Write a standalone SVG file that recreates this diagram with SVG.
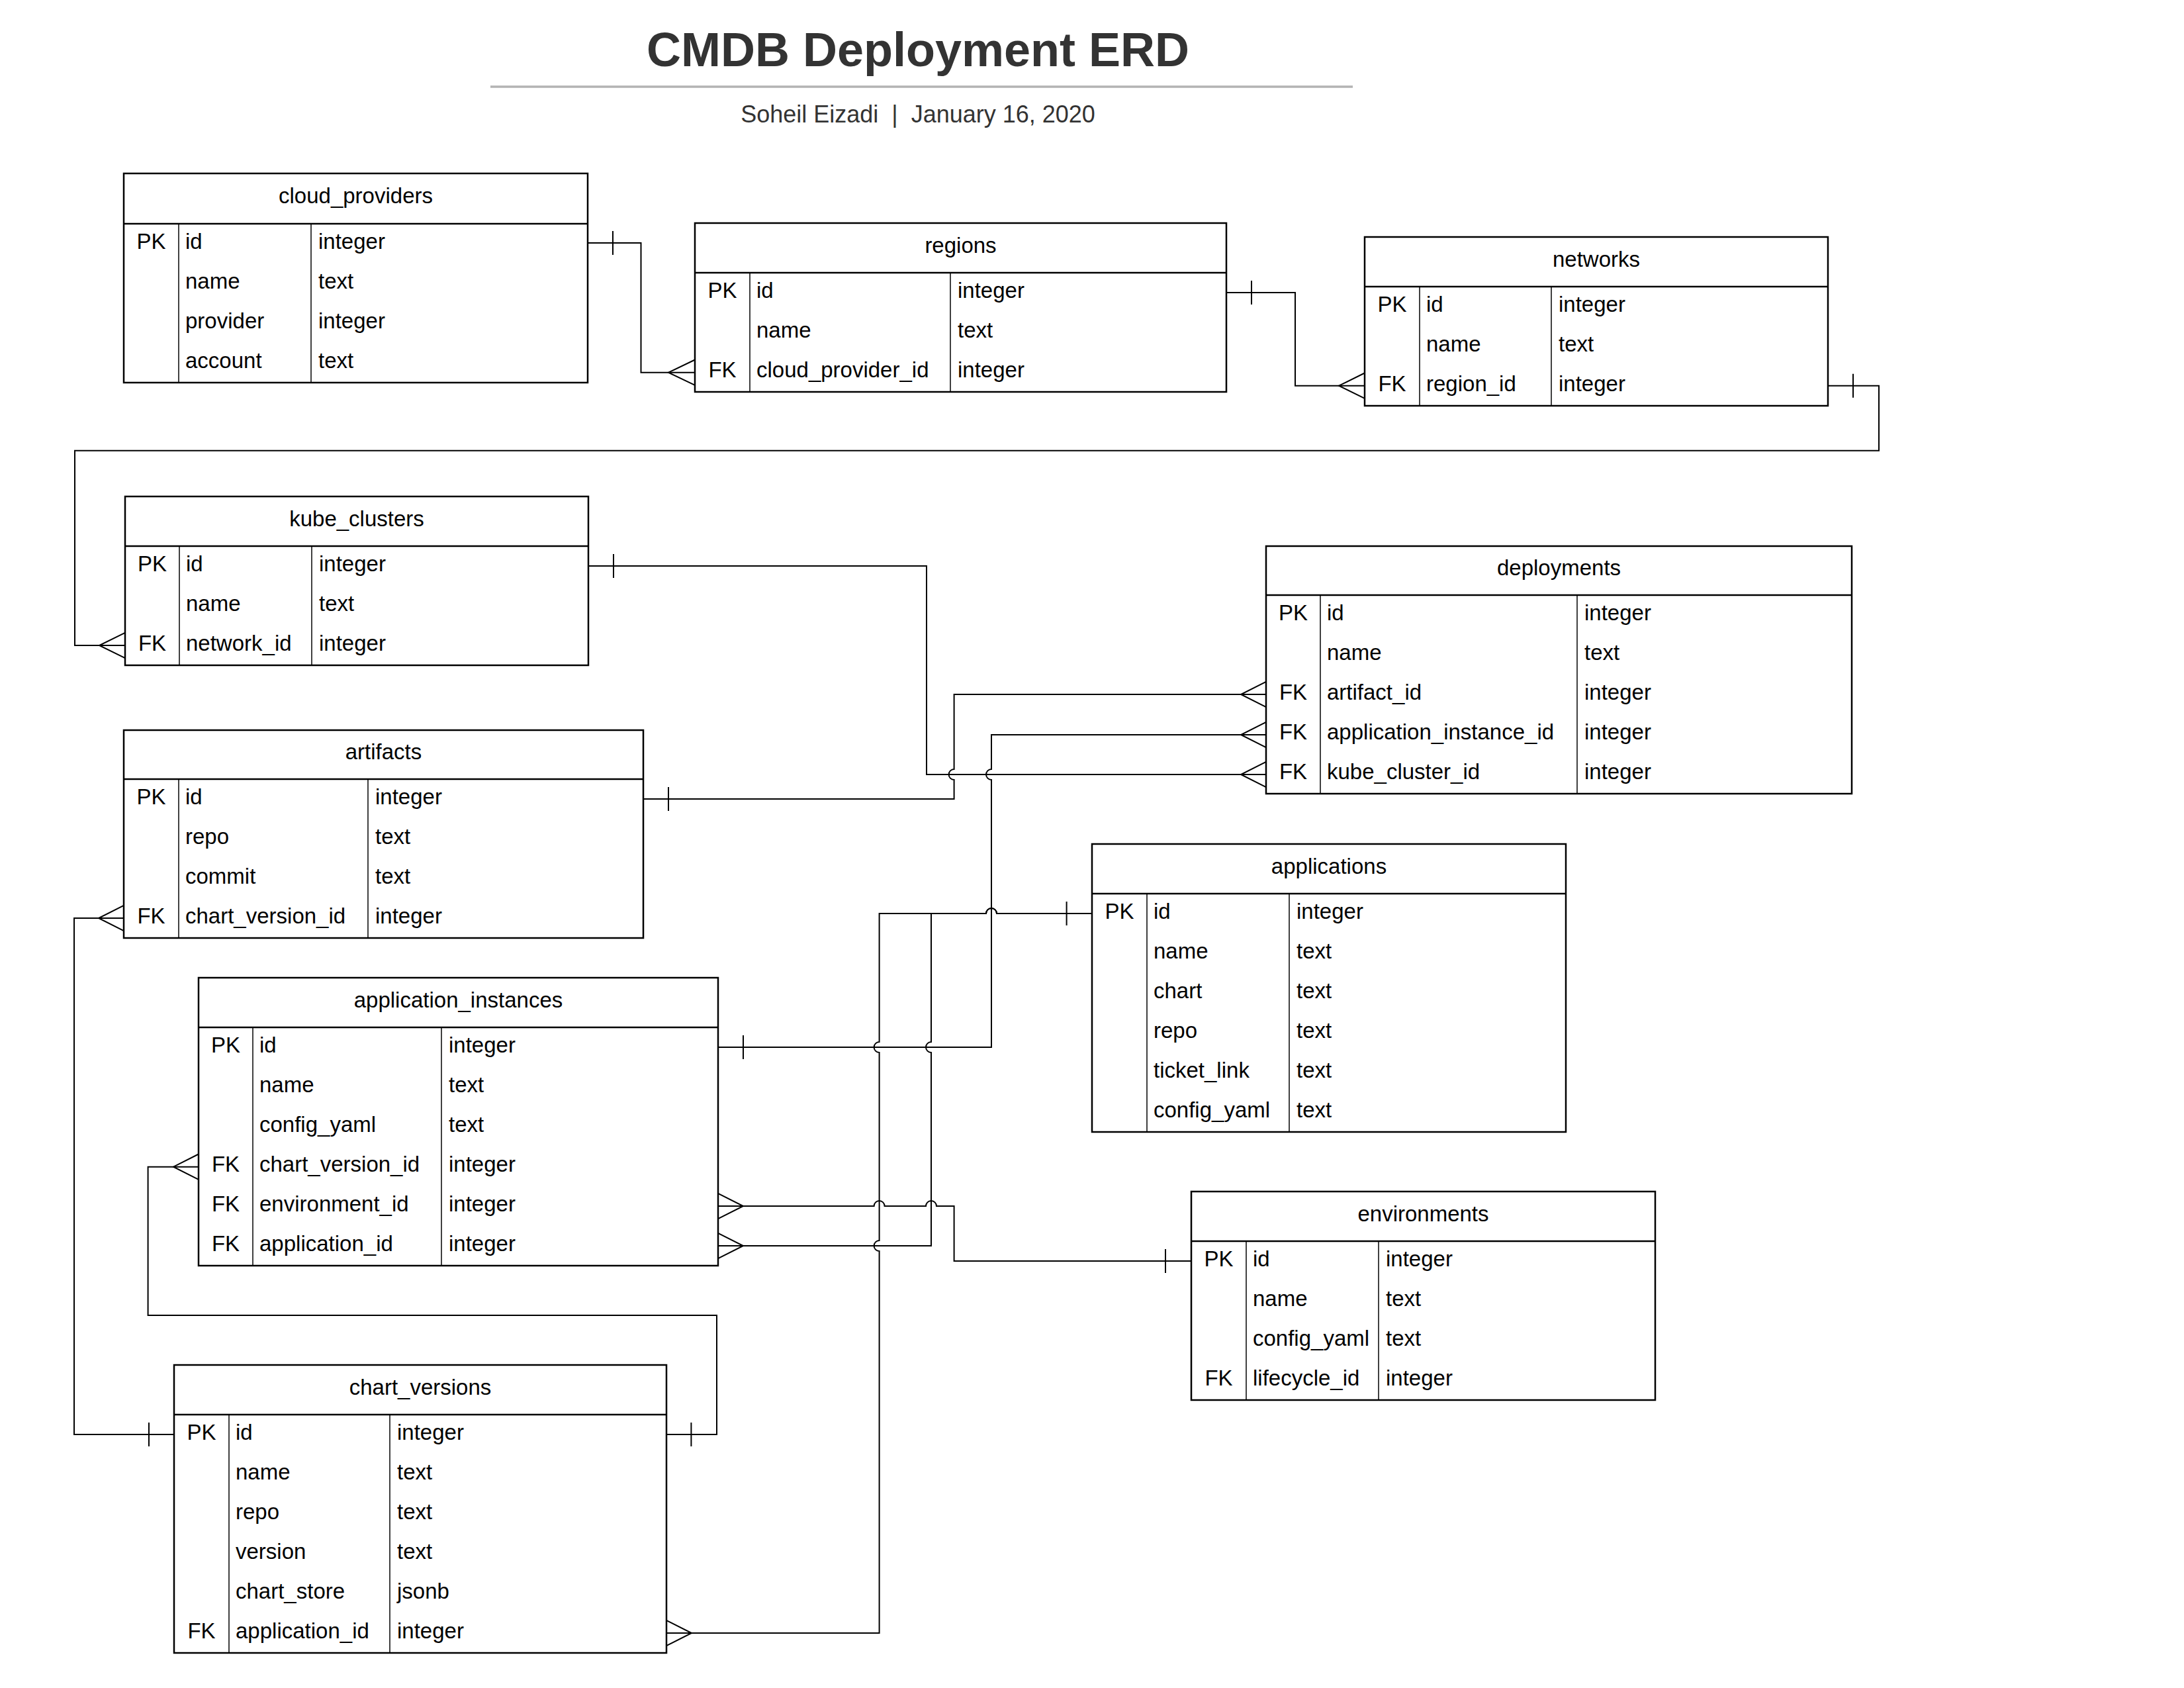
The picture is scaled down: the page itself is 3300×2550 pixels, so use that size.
<svg xmlns="http://www.w3.org/2000/svg" width="3300" height="2550" viewBox="0 0 3300 2550">
<style>
.bg{fill:#fff}
.box{fill:#fff;stroke:#000;stroke-width:2.5}
.hd{stroke:#000;stroke-width:2.5}
.col{stroke:#000;stroke-width:1.5}
.t{font-family:"Liberation Sans",Arial,sans-serif;font-size:33px;fill:#000}
.r{transform:translateY(2px)}
.c{text-anchor:middle}
.ln{fill:none;stroke:#000;stroke-width:2}
.title{font-family:"Liberation Sans",Arial,sans-serif;font-size:72px;font-weight:bold;fill:#333;text-anchor:middle}
.sub{font-family:"Liberation Sans",Arial,sans-serif;font-size:36px;fill:#333;text-anchor:middle}
</style>
<rect class="bg" x="0" y="0" width="3300" height="2550"/>
<g id="title">
<text class="title" x="1387" y="100">CMDB Deployment ERD</text>
<line x1="741" y1="131" x2="2044" y2="131" stroke="#b3b3b3" stroke-width="3.5"/>
<text class="sub" x="1387" y="185">Soheil Eizadi &#160;| &#160;January 16, 2020</text>
</g>

<g id="connectors">
<!-- cloud_providers -> regions -->
<path class="ln" d="M888,367 H968.5 V562.7 H1050"/>
<path class="ln" d="M926,349 V385"/>
<path class="ln" d="M1050,543.5 L1010,562.7 L1050,581.9"/>
<!-- regions -> networks -->
<path class="ln" d="M1853,442 H1957 V582.7 H2062"/>
<path class="ln" d="M1891,424 V460"/>
<path class="ln" d="M2062,563.5 L2023,582.7 L2062,601.9"/>
<!-- networks -> kube_clusters -->
<path class="ln" d="M2762,582.7 H2839 V680.7 H113 V975 H189"/>
<path class="ln" d="M2800,564.7 V600.7"/>
<path class="ln" d="M189,955.8 L150,975 L189,994.2"/>
<!-- kube_clusters -> deployments -->
<path class="ln" d="M889,855 H1400 V1170 H1913"/>
<path class="ln" d="M927,837 V873"/>
<path class="ln" d="M1913,1150.8 L1875,1170 L1913,1189.2"/>
<!-- artifacts -> deployments -->
<path class="ln" d="M972,1207 H1441.6 V1178 A8,8 0 0 1 1441.6,1162 V1049 H1913"/>
<path class="ln" d="M1010,1189 V1225"/>
<path class="ln" d="M1913,1029.8 L1875,1049 L1913,1068.2"/>
<!-- application_instances -> deployments -->
<path class="ln" d="M1085,1582 H1498 V1178 A8,8 0 0 1 1498,1162 V1110 H1913"/>
<path class="ln" d="M1123,1564 V1600"/>
<path class="ln" d="M1913,1090.8 L1875,1110 L1913,1129.2"/>
<!-- applications -> application_instances -->
<path class="ln" d="M1650,1380 H1506 A8,8 0 0 0 1490,1380 H1407 V1574 A8,8 0 0 0 1407,1590 V1882 H1085"/>
<path class="ln" d="M1611.6,1362 V1398"/>
<path class="ln" d="M1085,1862.8 L1123,1882 L1085,1901.2"/>
<!-- applications -> chart_versions -->
<path class="ln" d="M1650,1380 H1506 A8,8 0 0 0 1490,1380 H1328.6 V1574 A8,8 0 0 0 1328.6,1590 V1874 A8,8 0 0 0 1328.6,1890 V2467 H1007"/>
<path class="ln" d="M1007,2447.8 L1045,2467 L1007,2486.2"/>
<!-- application_instances -> environments -->
<path class="ln" d="M1085,1822 H1320.6 A8,8 0 0 1 1336.6,1822 H1399 A8,8 0 0 1 1415,1822 H1441.6 V1905 H1800"/>
<path class="ln" d="M1085,1802.8 L1123,1822 L1085,1841.2"/>
<path class="ln" d="M1761,1887 V1923"/>
<!-- chart_versions -> application_instances -->
<path class="ln" d="M1007,2167 H1083 V1987 H223.6 V1762.7 H300"/>
<path class="ln" d="M1044.4,2149 V2185"/>
<path class="ln" d="M300,1743.5 L262,1762.7 L300,1781.9"/>
<!-- chart_versions -> artifacts -->
<path class="ln" d="M263,2167 H112 V1387 H187"/>
<path class="ln" d="M225,2149 V2185"/>
<path class="ln" d="M187,1367.8 L149,1387 L187,1406.2"/>
</g>

<g id="cloud_providers">
<rect class="box" x="187" y="262" width="701" height="316"/>
<line class="hd" x1="187" y1="338" x2="888" y2="338"/>
<line class="col" x1="270" y1="338" x2="270" y2="578"/>
<line class="col" x1="470" y1="338" x2="470" y2="578"/>
<text class="t c" x="537.5" y="307">cloud_providers</text>
<g class="r">
<text class="t c" x="228.5" y="374">PK</text>
<text class="t" x="280" y="374">id</text><text class="t" x="481" y="374">integer</text>
<text class="t" x="280" y="434">name</text><text class="t" x="481" y="434">text</text>
<text class="t" x="280" y="494">provider</text><text class="t" x="481" y="494">integer</text>
<text class="t" x="280" y="554">account</text><text class="t" x="481" y="554">text</text>
</g>
</g>

<g id="regions">
<rect class="box" x="1050" y="337" width="803" height="255"/>
<line class="hd" x1="1050" y1="412" x2="1853" y2="412"/>
<line class="col" x1="1133" y1="412" x2="1133" y2="592"/>
<line class="col" x1="1436" y1="412" x2="1436" y2="592"/>
<text class="t c" x="1451.5" y="381.5">regions</text>
<g class="r">
<text class="t c" x="1091.5" y="448">PK</text>
<text class="t" x="1143" y="448">id</text><text class="t" x="1447" y="448">integer</text>
<text class="t" x="1143" y="508">name</text><text class="t" x="1447" y="508">text</text>
<text class="t c" x="1091.5" y="568">FK</text>
<text class="t" x="1143" y="568">cloud_provider_id</text><text class="t" x="1447" y="568">integer</text>
</g>
</g>

<g id="networks">
<rect class="box" x="2062" y="358" width="700" height="255"/>
<line class="hd" x1="2062" y1="433" x2="2762" y2="433"/>
<line class="col" x1="2145" y1="433" x2="2145" y2="613"/>
<line class="col" x1="2344" y1="433" x2="2344" y2="613"/>
<text class="t c" x="2412" y="402.5">networks</text>
<g class="r">
<text class="t c" x="2103.5" y="469">PK</text>
<text class="t" x="2155" y="469">id</text><text class="t" x="2355" y="469">integer</text>
<text class="t" x="2155" y="529">name</text><text class="t" x="2355" y="529">text</text>
<text class="t c" x="2103.5" y="589">FK</text>
<text class="t" x="2155" y="589">region_id</text><text class="t" x="2355" y="589">integer</text>
</g>
</g>

<g id="kube_clusters">
<rect class="box" x="189" y="750" width="700" height="255"/>
<line class="hd" x1="189" y1="825" x2="889" y2="825"/>
<line class="col" x1="271" y1="825" x2="271" y2="1005"/>
<line class="col" x1="471" y1="825" x2="471" y2="1005"/>
<text class="t c" x="539" y="794.5">kube_clusters</text>
<g class="r">
<text class="t c" x="230" y="861">PK</text>
<text class="t" x="281" y="861">id</text><text class="t" x="482" y="861">integer</text>
<text class="t" x="281" y="921">name</text><text class="t" x="482" y="921">text</text>
<text class="t c" x="230" y="981">FK</text>
<text class="t" x="281" y="981">network_id</text><text class="t" x="482" y="981">integer</text>
</g>
</g>

<g id="deployments">
<rect class="box" x="1913" y="825" width="885" height="374"/>
<line class="hd" x1="1913" y1="899" x2="2798" y2="899"/>
<line class="col" x1="1995" y1="899" x2="1995" y2="1199"/>
<line class="col" x1="2383" y1="899" x2="2383" y2="1199"/>
<text class="t c" x="2355.5" y="869">deployments</text>
<g class="r">
<text class="t c" x="1954" y="935">PK</text>
<text class="t" x="2005" y="935">id</text><text class="t" x="2394" y="935">integer</text>
<text class="t" x="2005" y="995">name</text><text class="t" x="2394" y="995">text</text>
<text class="t c" x="1954" y="1055">FK</text>
<text class="t" x="2005" y="1055">artifact_id</text><text class="t" x="2394" y="1055">integer</text>
<text class="t c" x="1954" y="1115">FK</text>
<text class="t" x="2005" y="1115">application_instance_id</text><text class="t" x="2394" y="1115">integer</text>
<text class="t c" x="1954" y="1175">FK</text>
<text class="t" x="2005" y="1175">kube_cluster_id</text><text class="t" x="2394" y="1175">integer</text>
</g>
</g>

<g id="artifacts">
<rect class="box" x="187" y="1103" width="785" height="314"/>
<line class="hd" x1="187" y1="1177" x2="972" y2="1177"/>
<line class="col" x1="270" y1="1177" x2="270" y2="1417"/>
<line class="col" x1="556" y1="1177" x2="556" y2="1417"/>
<text class="t c" x="579.5" y="1147">artifacts</text>
<g class="r">
<text class="t c" x="228.5" y="1213">PK</text>
<text class="t" x="280" y="1213">id</text><text class="t" x="567" y="1213">integer</text>
<text class="t" x="280" y="1273">repo</text><text class="t" x="567" y="1273">text</text>
<text class="t" x="280" y="1333">commit</text><text class="t" x="567" y="1333">text</text>
<text class="t c" x="228.5" y="1393">FK</text>
<text class="t" x="280" y="1393">chart_version_id</text><text class="t" x="567" y="1393">integer</text>
</g>
</g>

<g id="application_instances">
<rect class="box" x="300" y="1477" width="785" height="435"/>
<line class="hd" x1="300" y1="1552" x2="1085" y2="1552"/>
<line class="col" x1="382" y1="1552" x2="382" y2="1912"/>
<line class="col" x1="667" y1="1552" x2="667" y2="1912"/>
<text class="t c" x="692.5" y="1521.5">application_instances</text>
<g class="r">
<text class="t c" x="341" y="1588">PK</text>
<text class="t" x="392" y="1588">id</text><text class="t" x="678" y="1588">integer</text>
<text class="t" x="392" y="1648">name</text><text class="t" x="678" y="1648">text</text>
<text class="t" x="392" y="1708">config_yaml</text><text class="t" x="678" y="1708">text</text>
<text class="t c" x="341" y="1768">FK</text>
<text class="t" x="392" y="1768">chart_version_id</text><text class="t" x="678" y="1768">integer</text>
<text class="t c" x="341" y="1828">FK</text>
<text class="t" x="392" y="1828">environment_id</text><text class="t" x="678" y="1828">integer</text>
<text class="t c" x="341" y="1888">FK</text>
<text class="t" x="392" y="1888">application_id</text><text class="t" x="678" y="1888">integer</text>
</g>
</g>

<g id="applications">
<rect class="box" x="1650" y="1275" width="716" height="435"/>
<line class="hd" x1="1650" y1="1350" x2="2366" y2="1350"/>
<line class="col" x1="1733" y1="1350" x2="1733" y2="1710"/>
<line class="col" x1="1948" y1="1350" x2="1948" y2="1710"/>
<text class="t c" x="2008" y="1319.5">applications</text>
<g class="r">
<text class="t c" x="1691.5" y="1386">PK</text>
<text class="t" x="1743" y="1386">id</text><text class="t" x="1959" y="1386">integer</text>
<text class="t" x="1743" y="1446">name</text><text class="t" x="1959" y="1446">text</text>
<text class="t" x="1743" y="1506">chart</text><text class="t" x="1959" y="1506">text</text>
<text class="t" x="1743" y="1566">repo</text><text class="t" x="1959" y="1566">text</text>
<text class="t" x="1743" y="1626">ticket_link</text><text class="t" x="1959" y="1626">text</text>
<text class="t" x="1743" y="1686">config_yaml</text><text class="t" x="1959" y="1686">text</text>
</g>
</g>

<g id="environments">
<rect class="box" x="1800" y="1800" width="701" height="315"/>
<line class="hd" x1="1800" y1="1875" x2="2501" y2="1875"/>
<line class="col" x1="1883" y1="1875" x2="1883" y2="2115"/>
<line class="col" x1="2083" y1="1875" x2="2083" y2="2115"/>
<text class="t c" x="2150.5" y="1844.5">environments</text>
<g class="r">
<text class="t c" x="1841.5" y="1911">PK</text>
<text class="t" x="1893" y="1911">id</text><text class="t" x="2094" y="1911">integer</text>
<text class="t" x="1893" y="1971">name</text><text class="t" x="2094" y="1971">text</text>
<text class="t" x="1893" y="2031">config_yaml</text><text class="t" x="2094" y="2031">text</text>
<text class="t c" x="1841.5" y="2091">FK</text>
<text class="t" x="1893" y="2091">lifecycle_id</text><text class="t" x="2094" y="2091">integer</text>
</g>
</g>

<g id="chart_versions">
<rect class="box" x="263" y="2062" width="744" height="435"/>
<line class="hd" x1="263" y1="2137" x2="1007" y2="2137"/>
<line class="col" x1="346" y1="2137" x2="346" y2="2497"/>
<line class="col" x1="589" y1="2137" x2="589" y2="2497"/>
<text class="t c" x="635" y="2106.5">chart_versions</text>
<g class="r">
<text class="t c" x="304.5" y="2173">PK</text>
<text class="t" x="356" y="2173">id</text><text class="t" x="600" y="2173">integer</text>
<text class="t" x="356" y="2233">name</text><text class="t" x="600" y="2233">text</text>
<text class="t" x="356" y="2293">repo</text><text class="t" x="600" y="2293">text</text>
<text class="t" x="356" y="2353">version</text><text class="t" x="600" y="2353">text</text>
<text class="t" x="356" y="2413">chart_store</text><text class="t" x="600" y="2413">jsonb</text>
<text class="t c" x="304.5" y="2473">FK</text>
<text class="t" x="356" y="2473">application_id</text><text class="t" x="600" y="2473">integer</text>
</g>
</g>
</svg>
